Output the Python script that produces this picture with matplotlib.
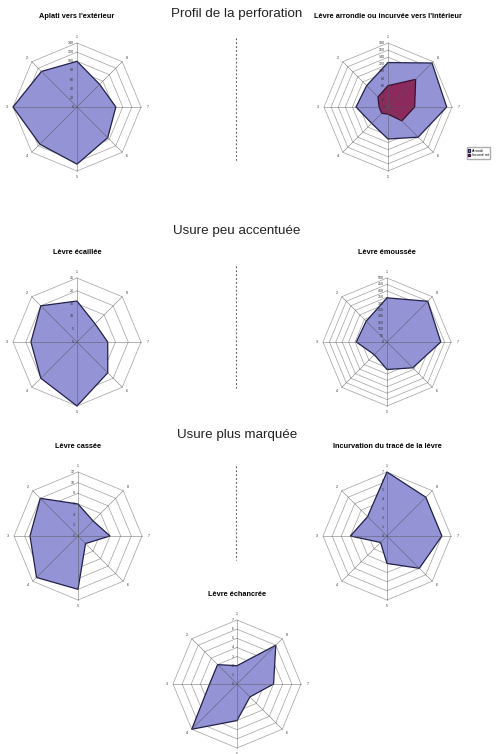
"""Profil de la perforation - radar charts"""
import numpy as np
import matplotlib
matplotlib.use('Agg')
import matplotlib.pyplot as plt
from matplotlib.lines import Line2D

plt.rcParams['font.family'] = ['Liberation Sans', 'DejaVu Sans']

axis_labels = ['1', '2', '3', '4', '5', '6', '7', '8']

aplati = [100, 110, 140, 115, 125, 95, 85, 70]
arrondi = [125, 85, 90, 65, 90, 120, 165, 175]
incurve_mt = [60, 40, 25, 25, 20, 55, 75, 110]
ecaillee = [16, 20, 18, 20, 25, 17, 12, 10]
emoussee = [345, 230, 240, 140, 215, 285, 420, 450]
cassee = [6, 10, 9, 11, 10, 2, 6, 4]
incurvation = [7, 3, 4, 1, 3, 5, 6, 6]
echancree = [2, 3, 3, 7, 4, 2, 4, 6]

section_titles = ['Profil de la perforation', 'Usure peu accentuée', 'Usure plus marquée']

W, H = 500, 754
R = 64  # radius of outer ring in pixels
FILL = '#9393d6'
EDGE = '#20204a'
GRID = '#a0a0a0'


def radar(cx, cy, title, series, rmax, step, colors, legend=None):
    half = R * 1.2
    ax = fig.add_axes([(cx - half) / W, (H - cy - half) / H, 2 * half / W, 2 * half / H])
    ax.set_xlim(-1.2, 1.2)
    ax.set_ylim(-1.2, 1.2)
    ax.axis('off')
    ang = np.deg2rad(90 + 45 * np.arange(8))
    ang_c = np.append(ang, ang[0])
    rings = np.arange(step, rmax + step / 2, step)
    for rv in rings:
        r = rv / rmax
        ax.plot(r * np.cos(ang_c), r * np.sin(ang_c), color=GRID, lw=0.5, zorder=1)
    handles = []
    for vals, (fc, ec) in zip(series, colors):
        r = np.append(vals, vals[0]) / rmax
        h = ax.fill(r * np.cos(ang_c), r * np.sin(ang_c), facecolor=fc, edgecolor=ec, lw=0.9, zorder=2)
        handles.append(h[0])
    for a in ang:
        ax.plot([0, np.cos(a)], [0, np.sin(a)], color='#555555', lw=0.45, alpha=0.7, zorder=3)
    for lab, a in zip(axis_labels, ang):
        ax.text(1.1 * np.cos(a), 1.09 * np.sin(a), lab, fontsize=2.6, ha='center', va='center', color='#333333')
    for rv in np.append(0, rings):
        ax.text(-0.05, rv / rmax, '%g' % rv, fontsize=2.6, ha='right', va='center', color='#333333', zorder=4)
    fig.text(cx / W, 1 - (cy - 90) / H, title, fontsize=5.3, fontweight='bold', ha='center', va='center')
    if legend:
        ax.legend(handles, legend, loc='center left',
                  bbox_to_anchor=((465 - (cx - half)) / (2 * half), (half - (153 - cy)) / (2 * half)),
                  fontsize=2.6, frameon=True, edgecolor='#999999', fancybox=False, handlelength=0.6,
                  handleheight=0.6, borderpad=0.4, labelspacing=0.2, handletextpad=0.4)
    return ax


fig = plt.figure(figsize=(W / 100, H / 100), dpi=100)

blue = (FILL, EDGE)
mag = ('#8c2a5e', '#3a1030')

radar(77, 107, "Aplati vers l'extérieur", [aplati], 140, 20, [blue])
radar(388, 107, "Lèvre arrondie ou incurvée vers l'intérieur", [arrondi, incurve_mt], 180, 20, [blue, mag],
      legend=['Arrondi', 'Incurvé mt'])
radar(77, 342, 'Lèvre écaillée', [ecaillee], 25, 5, [blue])
radar(387, 342, 'Lèvre émoussée', [emoussee], 500, 50, [blue])
radar(78, 536, 'Lèvre cassée', [cassee], 12, 2, [blue])
radar(387, 536, 'Incurvation du tracé de la lèvre', [incurvation], 7, 1, [blue])
radar(237, 684, 'Lèvre échancrée', [echancree], 7, 1, [blue])

for t, y in zip(section_titles, [14, 231, 435]):
    fig.text(237 / W, 1 - y / H, t, fontsize=9.6, ha='center', va='center', color='#222222')

for y0, y1 in [(38, 162), (266, 388), (466, 560)]:
    fig.add_artist(Line2D([236 / W, 236 / W], [1 - y0 / H, 1 - y1 / H], transform=fig.transFigure,
                          color='#555555', lw=0.8, ls=(0, (1.5, 2))))

fig.savefig('out.png', dpi=100, facecolor='white')
